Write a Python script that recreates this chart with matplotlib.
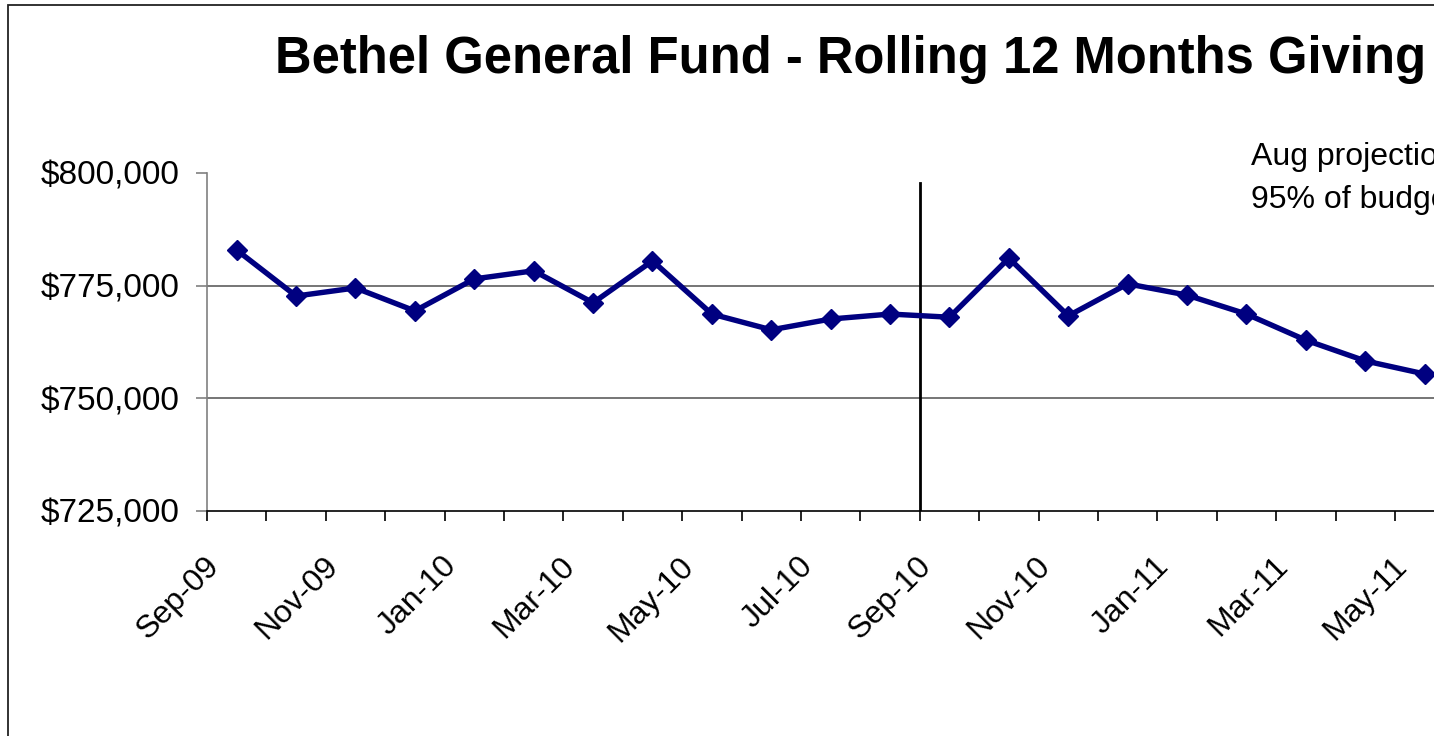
import matplotlib
matplotlib.use("Agg")
import matplotlib.pyplot as plt
from matplotlib.patches import Rectangle
from matplotlib.transforms import ScaledTranslation

months = ['Sep-09', 'Oct-09', 'Nov-09', 'Dec-09', 'Jan-10', 'Feb-10', 'Mar-10',
          'Apr-10', 'May-10', 'Jun-10', 'Jul-10', 'Aug-10', 'Sep-10', 'Oct-10',
          'Nov-10', 'Dec-10', 'Jan-11', 'Feb-11', 'Mar-11', 'Apr-11', 'May-11']
giving = [782900, 772700, 774500, 769400, 776500, 778300, 771200, 780500,
          768700, 765200, 767600, 768700, 768000, 781100, 768300, 775400,
          772900, 768700, 762900, 758300, 755400]
tick_labels = ['Sep-09', 'Nov-09', 'Jan-10', 'Mar-10', 'May-10', 'Jul-10',
               'Sep-10', 'Nov-10', 'Jan-11', 'Mar-11', 'May-11', 'Jul-11']
y_ticks = [725000, 750000, 775000, 800000]
n_slots = 24  # Sep-09 .. Aug-11 (chart continues beyond the visible edge)

plt.rcParams['font.family'] = ['Liberation Sans', 'DejaVu Sans']

W, H = 1434, 736
fig = plt.figure(figsize=(W / 100, H / 100), dpi=100)

# outer chart frame (extends beyond visible canvas on right/bottom)
fig.patches.append(Rectangle((8 / W, -0.1), 1.2, (736 - 5) / H + 0.1,
                             transform=fig.transFigure, fill=False,
                             edgecolor='#222222', linewidth=1.3))

left, top, bottom = 207, 173, 511
slot = 59.4
ax = fig.add_axes([left / W, (H - bottom) / H, n_slots * slot / W, (bottom - top) / H])

xs = [i + 0.5 for i in range(len(giving))]
ax.plot(xs, giving, color='#000080', linewidth=3.9, marker='D', markersize=10.5,
        markerfacecolor='#000080', markeredgecolor='#000080', zorder=3,
        clip_on=False)

ax.set_xlim(0, n_slots)
ax.set_ylim(725000, 800000)

for yv in y_ticks[1:-1]:
    ax.axhline(yv, color='#6a6a6a', linewidth=1.3, zorder=1)

ax.axvline(12, ymin=0, ymax=(797800 - 725000) / 75000, color='black', linewidth=2.0, zorder=2)

ax.set_yticks(y_ticks)
ax.set_yticklabels(['${:,.0f}'.format(v) for v in y_ticks], fontsize=24)
ax.set_xticks(range(0, n_slots + 1))
ax.set_xticklabels([])

# rotated category labels at every other tick (Excel-style placement)
lab_trans = ax.get_xaxis_transform() + ScaledTranslation(18 / 100, -40 / 100, fig.dpi_scale_trans)
for k, lab in enumerate(tick_labels):
    ax.text(2 * k, 0, lab, transform=lab_trans, fontsize=23, rotation=45,
            ha='right', va='top', clip_on=False)

for s in ['top', 'right']:
    ax.spines[s].set_visible(False)
ax.spines['left'].set_color('#808080')
ax.spines['left'].set_linewidth(1.2)
ax.spines['bottom'].set_color('black')
ax.spines['bottom'].set_linewidth(1.2)
ax.tick_params(axis='y', length=8, width=1.2, color='#808080', pad=12)
ax.tick_params(axis='x', length=7, width=1.2, color='black')

fig.text(275 / W, 1 - 73 / H, 'Bethel General Fund - Rolling 12 Months Giving',
         fontsize=36.5, fontweight='bold', ha='left', va='baseline')
fig.text(1251 / W, 1 - 165 / H, 'Aug projection', fontsize=23, ha='left', va='baseline')
fig.text(1251 / W, 1 - 208 / H, '95% of budget', fontsize=23, ha='left', va='baseline')

fig.savefig('out.png', dpi=100)
